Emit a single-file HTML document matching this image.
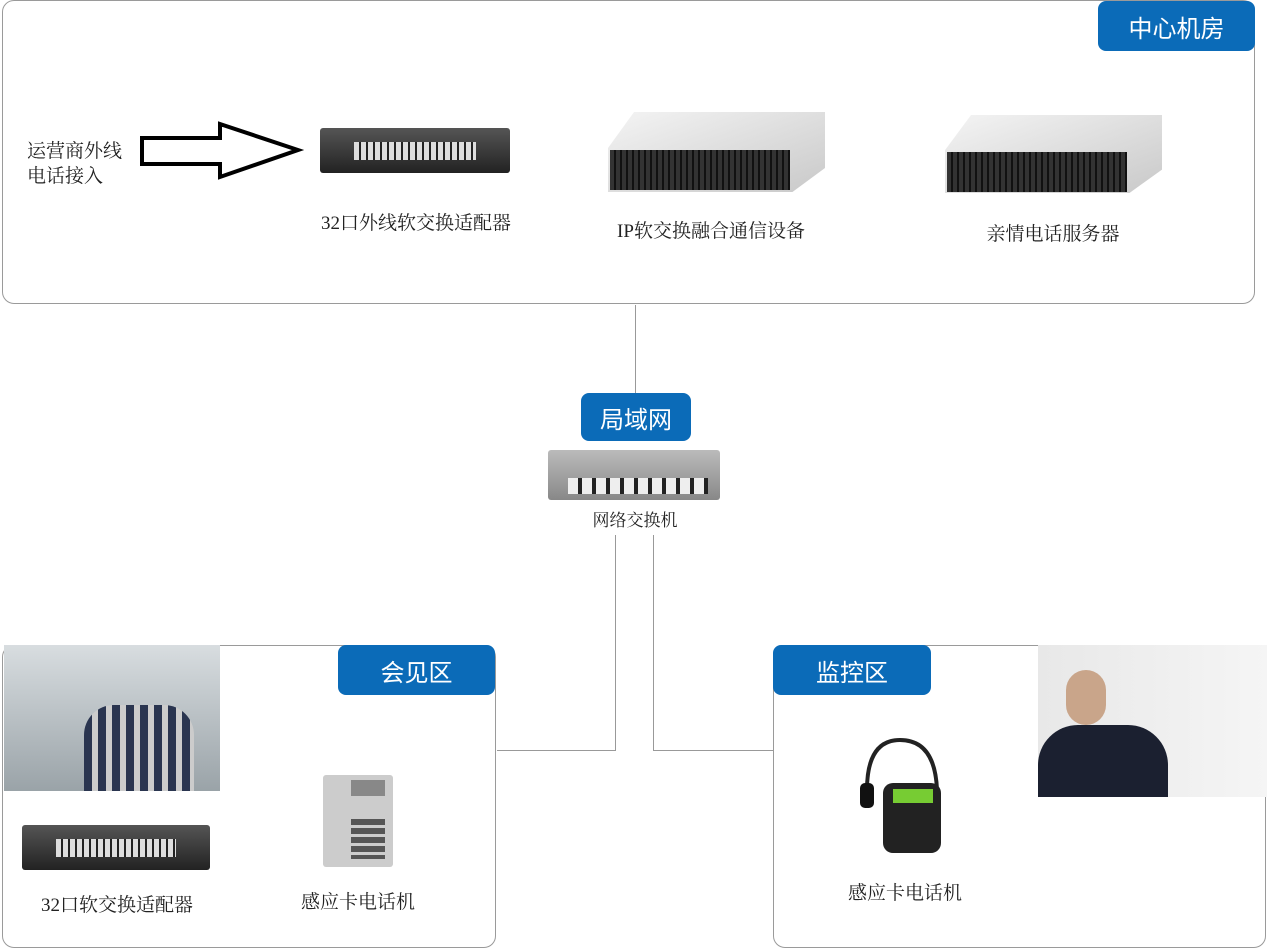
<!DOCTYPE html>
<html><head><meta charset="utf-8"><style>
*{margin:0;padding:0;box-sizing:border-box}
body{width:1267px;height:949px;background:#fff;position:relative;overflow:hidden;font-family:"Liberation Serif","Noto Serif CJK SC","Noto Sans CJK SC",serif;color:#222}
.a{position:absolute}
.box{position:absolute;border:1px solid #9a9a9a;border-radius:12px;background:#fff}
.tab{position:absolute;background:#0b6bb8;color:#fff;border-radius:8px;font-family:"Liberation Sans","Noto Sans CJK SC",sans-serif;font-size:24px;display:flex;align-items:center;justify-content:center}
.lbl{position:absolute;font-size:19px;text-align:center;white-space:nowrap;transform:translateX(-50%)}
.sw{position:absolute;background:linear-gradient(#555,#222);border-radius:3px}
.ports{position:absolute;left:18%;right:18%;top:30%;height:40%;background:repeating-linear-gradient(90deg,#ddd 0 5px,#222 5px 7px)}
.srv{position:absolute;background:linear-gradient(160deg,#f4f4f4,#c9c9c9);}
.srvf{position:absolute;background:#1e1e1e}
.ln{position:absolute;background:#999}
</style></head><body>
<div class="box" style="left:2px;top:0;width:1253px;height:304px"></div>
<div class="tab" style="left:1098px;top:1px;width:157px;height:50px">中心机房</div>
<div class="a" style="left:27px;top:139px;font-size:19px;line-height:25px">运营商外线<br>电话接入</div>
<svg class="a" style="left:138px;top:120px" width="168" height="62"><polygon points="4,18 82,18 82,4 160,30 82,57 82,44 4,44" fill="#fff" stroke="#000" stroke-width="4"/></svg>
<div class="sw" style="left:320px;top:128px;width:190px;height:45px"><div class="ports"></div></div>
<div class="lbl" style="left:416px;top:208px">32口外线软交换适配器</div>
<div class="srv" style="left:608px;top:112px;width:217px;height:80px;clip-path:polygon(12% 0,100% 0,100% 70%,85% 100%,0 100%,0 45%)"></div>
<div class="srvf" style="left:610px;top:150px;width:180px;height:40px;background:repeating-linear-gradient(90deg,#333 0 4px,#111 4px 6px)"></div>
<div class="lbl" style="left:711px;top:216px">IP软交换融合通信设备</div>
<div class="srv" style="left:945px;top:115px;width:217px;height:78px;clip-path:polygon(12% 0,100% 0,100% 70%,85% 100%,0 100%,0 45%)"></div>
<div class="srvf" style="left:947px;top:152px;width:180px;height:40px;background:repeating-linear-gradient(90deg,#333 0 4px,#111 4px 6px)"></div>
<div class="lbl" style="left:1053px;top:219px">亲情电话服务器</div>
<div class="ln" style="left:635px;top:305px;width:1px;height:90px"></div>
<div class="tab" style="left:581px;top:393px;width:110px;height:48px">局域网</div>
<div class="a" style="left:548px;top:450px;width:172px;height:50px;background:linear-gradient(#bbb,#888);border-radius:3px"><div class="a" style="left:20px;top:28px;width:140px;height:16px;background:repeating-linear-gradient(90deg,#eee 0 10px,#222 10px 14px)"></div></div>
<div class="lbl" style="left:635px;top:506px;font-size:17px">网络交换机</div>
<div class="ln" style="left:615px;top:535px;width:1px;height:216px"></div>
<div class="ln" style="left:497px;top:750px;width:119px;height:1px"></div>
<div class="ln" style="left:653px;top:535px;width:1px;height:216px"></div>
<div class="ln" style="left:653px;top:750px;width:120px;height:1px"></div>
<div class="box" style="left:2px;top:645px;width:494px;height:303px"></div>
<div class="tab" style="left:338px;top:645px;width:157px;height:50px">会见区</div>
<div class="a" style="left:4px;top:645px;width:216px;height:146px;background:linear-gradient(#d8dde0,#9aa3a8);"><div class="a" style="left:80px;top:60px;width:110px;height:86px;background:repeating-linear-gradient(90deg,#2a3550 0 8px,#ccc 8px 14px);border-radius:30px 30px 0 0"></div></div>
<div class="sw" style="left:22px;top:825px;width:188px;height:45px"><div class="ports"></div></div>
<div class="lbl" style="left:117px;top:890px">32口软交换适配器</div>
<div class="a" style="left:323px;top:775px;width:70px;height:92px;background:#ccc;border-radius:3px"><div class="a" style="left:28px;top:5px;width:34px;height:16px;background:#888"></div><div class="a" style="left:28px;top:44px;width:34px;height:40px;background:repeating-linear-gradient(#555 0 6px,#ccc 6px 9px)"></div></div>
<div class="lbl" style="left:358px;top:887px">感应卡电话机</div>
<div class="box" style="left:773px;top:645px;width:493px;height:303px"></div>
<div class="tab" style="left:773px;top:645px;width:158px;height:50px">监控区</div>
<div class="a" style="left:1038px;top:645px;width:229px;height:152px;background:linear-gradient(90deg,#e8e8e8,#f5f5f5)"><div class="a" style="left:0;top:80px;width:130px;height:72px;background:#1b2030;border-radius:40px 40px 0 0"></div><div class="a" style="left:28px;top:25px;width:40px;height:55px;background:#c9a58a;border-radius:20px"></div></div>
<svg class="a" style="left:855px;top:735px" width="95" height="122"><path d="M12,55 Q12,5 45,5 Q80,5 82,55" fill="none" stroke="#222" stroke-width="4"/><rect x="28" y="48" width="58" height="70" rx="10" fill="#222"/><rect x="38" y="54" width="40" height="14" fill="#7c3"/><rect x="5" y="48" width="14" height="25" rx="5" fill="#111"/></svg>
<div class="lbl" style="left:905px;top:878px">感应卡电话机</div>
</body></html>
